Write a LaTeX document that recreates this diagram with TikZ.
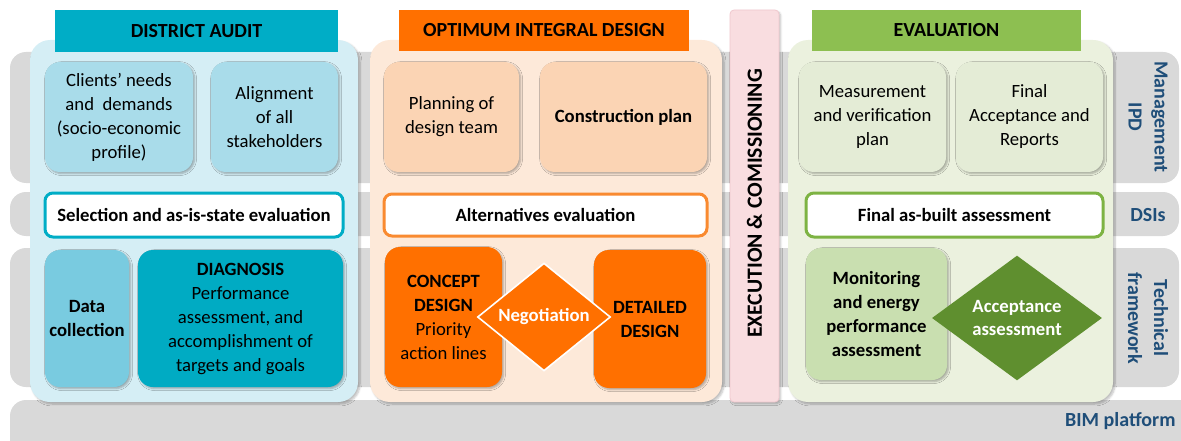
\documentclass[tikz,border=0pt]{standalone}
\usepackage{fontspec}
\setmainfont{Carlito}
\usetikzlibrary{shapes.geometric,shadows.blur}
\definecolor{bandgray}{HTML}{D9D9D9}
\definecolor{lbltxt}{HTML}{1F4E79}
\definecolor{daPanel}{HTML}{D5EEF5}
\definecolor{daHead}{HTML}{00ADC6}
\definecolor{daLight}{HTML}{A9DCEA}
\definecolor{daMid}{HTML}{79CBE0}
\definecolor{daDark}{HTML}{00ABC3}
\definecolor{oPanel}{HTML}{FDE9D9}
\definecolor{oHead}{HTML}{FF7000}
\definecolor{oLight}{HTML}{FBD4B4}
\definecolor{oDark}{HTML}{FF7000}
\definecolor{oBorder}{HTML}{F98A30}
\definecolor{exFill}{HTML}{F9DDE0}
\definecolor{exLine}{HTML}{F0C8CE}
\definecolor{ePanel}{HTML}{EBF1DE}
\definecolor{eHead}{HTML}{8DBF51}
\definecolor{eLight}{HTML}{E4ECD6}
\definecolor{eMid}{HTML}{C9DFB0}
\definecolor{eDark}{HTML}{5F8F2F}
\definecolor{eBorder}{HTML}{7DB343}
\begin{document}
\begin{tikzpicture}[x=1pt,y=-1pt,
  band/.style={fill=bandgray, draw=none, rounded corners=16pt},
  panel/.style={rectangle, rounded corners=20pt, draw=none, inner sep=0pt,
    blur shadow={shadow xshift=2pt, shadow yshift=-2pt, shadow blur steps=6, shadow opacity=25}},
  hdr/.style={rectangle, draw=none, inner sep=0pt, font=\fontsize{20}{24}\selectfont\bfseries, text=black},
  sbox/.style={rectangle, rounded corners=15pt, draw=none, inner sep=2pt, align=center,
    font=\fontsize{18.7}{24}\selectfont, text=black,
    blur shadow={shadow xshift=1.6pt, shadow yshift=-1.6pt, shadow blur steps=5, shadow opacity=30}},
  wbox/.style={rectangle, rounded corners=8pt, fill=white, line width=3pt, inner sep=0pt,
    font=\fontsize{18.7}{23}\selectfont\bfseries, text=black},
  diam/.style={diamond, inner sep=0pt, align=center, font=\fontsize{18.7}{23}\selectfont\bfseries, text=white},
  lbl/.style={text=lbltxt, align=center, font=\fontsize{20}{26}\selectfont\bfseries}
]
\clip (0,0) rectangle (1181,441);
% background bands
\fill[band] (10,52) rectangle (1179,183);
\fill[band] (10,192) rectangle (1179,236);
\fill[band] (10,248) rectangle (1179,387);
\fill[band] (10,400) rectangle (1200,470);

% ---------- District audit ----------
\node[panel, fill=daPanel, minimum width=328, minimum height=362] (daP) at (194,221) {};
\node[hdr, fill=daHead, minimum width=283, minimum height=42] (daH) at (196.5,31) {DISTRICT AUDIT};
\node[sbox, fill=daLight, minimum width=148, minimum height=110] (clients) at (119,117)
  {Clients’ needs\\and\ \ demands\\(socio-economic\\profile)};
\node[sbox, fill=daLight, minimum width=127, minimum height=110] (align) at (274.5,117)
  {Alignment\\of all\\stakeholders};
\node[wbox, draw=daHead, minimum width=298, minimum height=44] (sel) at (194,215)
  {Selection and as-is-state evaluation};
\node[sbox, fill=daMid, minimum width=84, minimum height=137, font=\fontsize{18.7}{24}\selectfont\bfseries] (data) at (87,318.5)
  {Data\\collection};
\node[sbox, fill=daDark, minimum width=205, minimum height=137] (diag) at (240.5,318.5)
  {\textbf{DIAGNOSIS}\\Performance\\assessment, and\\accomplishment of\\targets and goals};

% ---------- Optimum integral design ----------
\node[panel, fill=oPanel, minimum width=352, minimum height=362] (oP) at (546,221) {};
\node[hdr, fill=oHead, minimum width=290, minimum height=41] (oH) at (544,30.5) {OPTIMUM INTEGRAL DESIGN};
\node[sbox, fill=oLight, minimum width=135, minimum height=110] (plan) at (451.5,117)
  {Planning of\\design team};
\node[sbox, fill=oLight, minimum width=167, minimum height=110, font=\fontsize{18.7}{24}\selectfont\bfseries] (constr) at (623.5,117)
  {Construction plan};
\node[wbox, draw=oBorder, minimum width=323, minimum height=42] (alt) at (545.5,215)
  {Alternatives evaluation};
\node[sbox, fill=oDark, minimum width=117, minimum height=140] (concept) at (443.5,317)
  {\textbf{CONCEPT}\\\textbf{DESIGN}\\Priority\\action lines};
\node[sbox, fill=oDark, minimum width=112, minimum height=138, font=\fontsize{18.7}{24}\selectfont\bfseries] (detail) at (650,319)
  {DETAILED\\DESIGN};
\node[diam, fill=oDark, draw=white, line width=1.6pt, minimum width=133, minimum height=83] (nego) at (544,317)
  {Negotiation};

% ---------- Execution ----------
\node[rectangle, rounded corners=4pt, fill=exFill, draw=exLine, line width=0.8pt, minimum width=49, minimum height=392,
  blur shadow={shadow xshift=1.6pt, shadow yshift=-1.6pt, shadow blur steps=5, shadow opacity=25}] (exec) at (754.5,206) {};
\node[rotate=90, font=\fontsize{21.7}{25}\selectfont\bfseries, text=black] (execT) at (754.5,203.5) {EXECUTION \& COMISSIONING};

% ---------- Evaluation ----------
\node[panel, fill=ePanel, minimum width=325, minimum height=362] (eP) at (950.5,221) {};
\node[hdr, fill=eHead, minimum width=269, minimum height=41] (eH) at (946.5,30.5) {EVALUATION};
\node[sbox, fill=eLight, minimum width=147, minimum height=110] (meas) at (872.5,117)
  {Measurement\\and verification\\plan};
\node[sbox, fill=eLight, minimum width=147, minimum height=110] (final) at (1029.5,117)
  {Final\\Acceptance and\\Reports};
\node[wbox, draw=eBorder, minimum width=297, minimum height=44] (asbuilt) at (954.5,215)
  {Final as-built assessment};
\node[sbox, fill=eMid, minimum width=141, minimum height=132, font=\fontsize{18.7}{24}\selectfont\bfseries] (monit) at (876.5,314)
  {Monitoring\\and energy\\performance\\assessment};
\node[diam, fill=eDark, minimum width=170, minimum height=119] (accept) at (1017,318)
  {Acceptance\\assessment};

% ---------- Right labels ----------
\node[lbl, rotate=-90] (lblIPD) at (1148,117) {Management\\IPD};
\node[lbl] (lblDSI) at (1148,215) {DSIs};
\node[lbl, rotate=-90] (lblTech) at (1148,318) {Technical\\framework};
\node[lbl, anchor=east] (lblBIM) at (1179,421) {BIM platform};
\end{tikzpicture}
\end{document}
